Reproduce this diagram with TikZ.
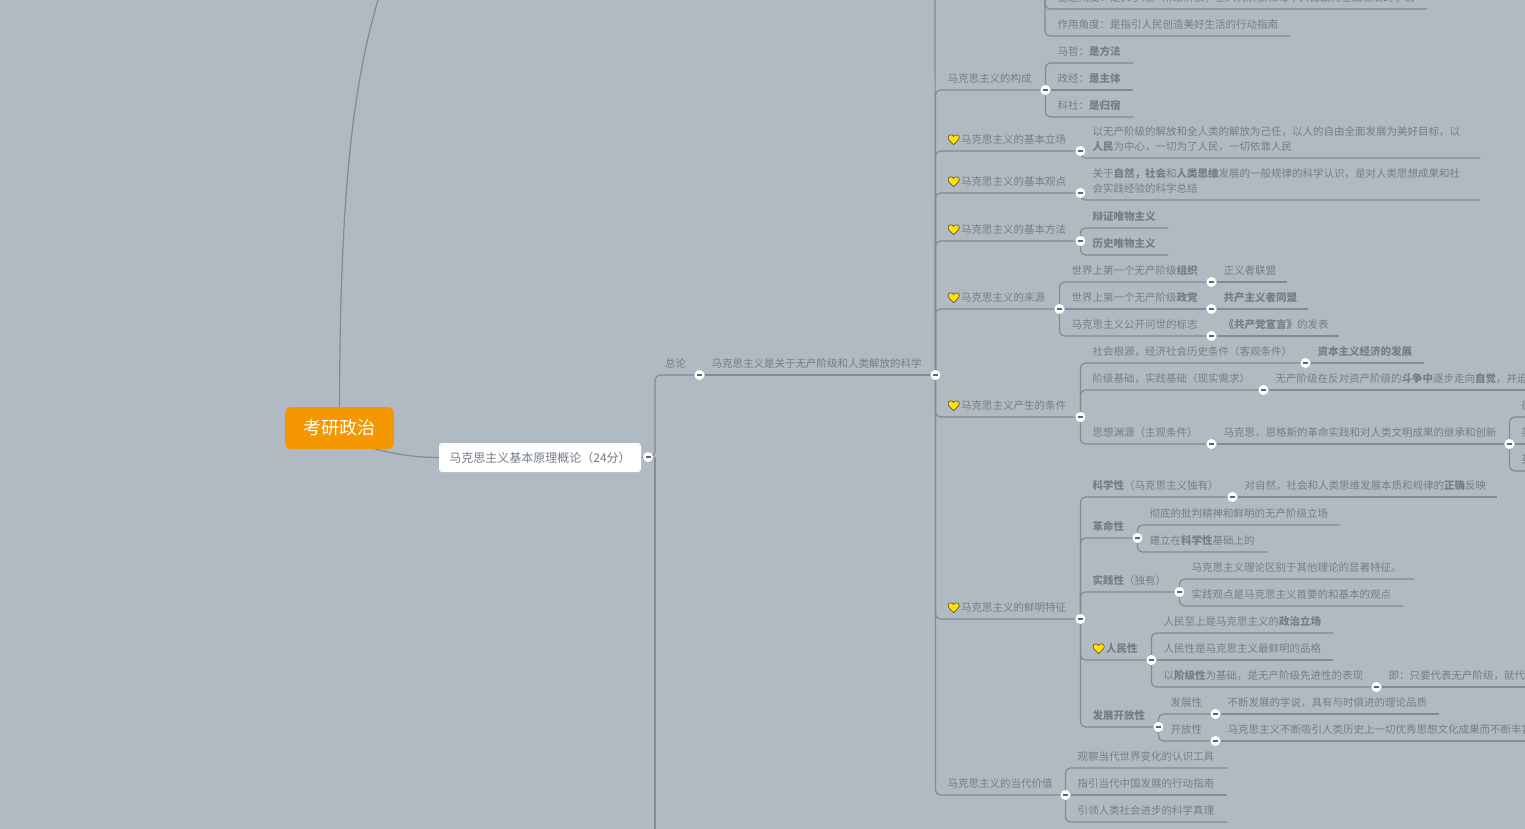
\documentclass[tikz,border=0pt]{standalone}
\usepackage{fontspec}
\setmainfont{Noto Sans CJK SC}
\usetikzlibrary{backgrounds}
\definecolor{mapbg}{HTML}{B1BAC2}
\definecolor{linkgray}{HTML}{808B95}
\definecolor{textgray}{HTML}{757E87}
\definecolor{rootorange}{HTML}{F49700}
\definecolor{heartyellow}{HTML}{FFE000}
\newcommand{\heartmark}{\begin{tikzpicture}[x=1.12pt,y=1.12pt,baseline=1pt]
  \draw[draw=black!65, fill=heartyellow, line width=0.7pt] (0,0) .. controls (-2,2.5) and (-5,4) .. (-5,6.6) .. controls (-5,9.2) and (-1.4,9.8) .. (0,7.4) .. controls (1.4,9.8) and (5,9.2) .. (5,6.6) .. controls (5,4) and (2,2.5) .. (0,0);
\end{tikzpicture}\hspace{1.5pt}}
\tikzset{
  topic/.style={
    anchor=south west,
    inner xsep=12.5pt,
    inner ysep=7pt,
    text depth=0pt,
    align=left,
    text=textgray,
    font=\fontsize{10.5}{15}\selectfont
  },
  twoline/.style={topic, text depth=15pt},
  rootnode/.style={
    fill=rootorange,
    rounded corners=6pt,
    minimum width=109pt,
    minimum height=42pt,
    text=white,
    font=\fontsize{18}{22}\selectfont
  },
  partnode/.style={
    fill=white,
    rounded corners=3pt,
    minimum width=202pt,
    minimum height=29pt,
    text=textgray,
    font=\fontsize{12}{15}\selectfont
  },
  fold/.style={
    circle,
    fill=white,
    inner sep=0pt,
    minimum size=10pt,
    text=textgray!80!black,
    execute at begin node={\rule[0.1pt]{5pt}{1.2pt}}
  },
  link/.style={draw=linkgray, line width=1.2pt, rounded corners=5pt}
}
\begin{document}
\begin{tikzpicture}[x=1pt,y=-1pt]
\useasboundingbox (0,0) rectangle (1525,829);

\node[rootnode] (root) at (339.5,428) {考研政治};
\node[partnode] (part) at (540,457.5) {马克思主义基本原理概论（24分）};
\node[fold] (partfold) at (648,457) {};
\coordinate (rootup) at (379,-3);
\coordinate (rootfoot) at (375,449);
\coordinate (bus) at (655,457);
\coordinate (busend) at (655,835);

\node[topic, text width=21.5pt] (summary) at (652.5,375) {总论};
\node[fold] (summaryfold) at (summary.south east) {};
\node[topic, text width=211pt] (science) at (699,375) {马克思主义是关于无产阶级和人类解放的科学};
\node[fold] (sciencefold) at (science.south east) {};
\coordinate (trunktop) at (935,-5);
\coordinate (viewtop) at (1045,-5);

% Cut at the top
\node[topic, text width=357pt] (viewmain) at (1045,9) {主题角度：是关于无产阶级解放，全人类解放和每个人自由而全面发展的学说};
\node[topic, text width=220pt] (viewuse) at (1045,36) {作用角度：是指引人民创造美好生活的行动指南};

% Composition
\node[topic, text width=85pt] (compose) at (935,90) {马克思主义的构成};
\node[fold] (composefold) at (compose.south east) {};
\node[topic, text width=63pt] (philo) at (1045,63) {马哲：\textbf{是方法}};
\node[topic, text width=63pt] (econ) at (1045,90) {政经：\textbf{是主体}};
\node[topic, text width=63pt] (social) at (1045,117) {科社：\textbf{是归宿}};

% Stance, view, method
\node[topic, text width=120pt] (stance) at (935,151) {\heartmark 马克思主义的基本立场};
\node[fold] (stancefold) at (stance.south east) {};
\node[twoline, text width=375pt] (stancetext) at (1080,158) {以无产阶级的解放和全人类的解放为己任，以人的自由全面发展为美好目标，以\\\textbf{人民}为中心，一切为了人民，一切依靠人民};
\node[topic, text width=120pt] (view) at (935,193) {\heartmark 马克思主义的基本观点};
\node[fold] (viewfold) at (view.south east) {};
\node[twoline, text width=375pt] (viewtext) at (1080,200) {关于\textbf{自然，社会}和\textbf{人类思维}发展的一般规律的科学认识，是对人类思想成果和社\\会实践经验的科学总结};
\node[topic, text width=120pt] (method) at (935,241) {\heartmark 马克思主义的基本方法};
\node[fold] (methodfold) at (method.south east) {};
\node[topic, text width=63pt] (dialectic) at (1080,228) {\textbf{辩证唯物主义}};
\node[topic, text width=63pt] (historic) at (1080,255) {\textbf{历史唯物主义}};

% Origin
\node[topic, text width=99pt] (origin) at (935,309) {\heartmark 马克思主义的来源};
\node[fold] (originfold) at (origin.south east) {};
\node[topic, text width=127pt] (firstorg) at (1059,282) {世界上第一个无产阶级\textbf{组织}};
\node[fold] (firstorgfold) at (firstorg.south east) {};
\node[topic, text width=51pt] (league) at (1211,282) {正义者联盟};
\node[topic, text width=127pt] (firstparty) at (1059,309) {世界上第一个无产阶级\textbf{政党}};
\node[fold] (firstpartyfold) at (firstparty.south east) {};
\node[topic, text width=72pt] (communist) at (1211,309) {\textbf{共产主义者同盟}};
\node[topic, text width=127pt] (debut) at (1059,336) {马克思主义公开问世的标志};
\node[fold] (debutfold) at (debut.south east) {};
\node[topic, text width=103pt] (manifesto) at (1211,336) {\textbf{《共产党宣言》}的发表};

% Conditions
\node[topic, text width=120pt] (condition) at (935,417) {\heartmark 马克思主义产生的条件};
\node[fold] (conditionfold) at (condition.south east) {};
\node[topic, text width=200pt] (socialroot) at (1080,363) {社会根源，经济社会历史条件（客观条件）};
\node[fold] (socialrootfold) at (socialroot.south east) {};
\node[topic, text width=94pt] (capital) at (1305,363) {\textbf{资本主义经济的发展}};
\node[topic, text width=158pt] (classroot) at (1080,390) {阶级基础，实践基础（现实需求）};
\node[fold] (classrootfold) at (classroot.south east) {};
\node[topic, text width=300pt] (struggle) at (1263,390) {无产阶级在反对资产阶级的\textbf{斗争中}逐步走向\textbf{自觉}，并迫};
\node[topic, text width=106pt] (idearoot) at (1080,444) {思想渊源（主观条件）};
\node[fold] (idearootfold) at (idearoot.south east) {};
\node[topic, text width=273pt] (inherit) at (1211,444) {马克思，恩格斯的革命实践和对人类文明成果的继承和创新};
\node[fold] (inheritfold) at (inherit.south east) {};
\node[topic, text width=60pt] (german) at (1509,417) {德};
\node[topic, text width=60pt] (english) at (1509,444) {英};
\node[topic, text width=60pt] (utopia) at (1509,471) {英};

% Features
\node[topic, text width=120pt] (feature) at (935,619) {\heartmark 马克思主义的鲜明特征};
\node[fold] (featurefold) at (feature.south east) {};
\node[topic, text width=127pt] (scientific) at (1080,497) {\textbf{科学性}（马克思主义独有）};
\node[fold] (scientificfold) at (scientific.south east) {};
\node[topic, text width=240pt] (reflect) at (1232,497) {对自然，社会和人类思维发展本质和规律的\textbf{正确}反映};
\node[topic, text width=32pt] (revolution) at (1080,538) {\textbf{革命性}};
\node[fold] (revolutionfold) at (revolution.south east) {};
\node[topic, text width=178pt] (critical) at (1137,525) {彻底的批判精神和鲜明的无产阶级立场};
\node[topic, text width=105pt] (basis) at (1137,552) {建立在\textbf{科学性}基础上的};
\node[topic, text width=74pt] (practice) at (1080,592) {\textbf{实践性}（独有）};
\node[fold] (practicefold) at (practice.south east) {};
\node[topic, text width=210pt] (marked) at (1179,579) {马克思主义理论区别于其他理论的显著特征。};
\node[topic, text width=199pt] (primary) at (1179,606) {实践观点是马克思主义首要的和基本的观点};
\node[topic, text width=46pt] (people) at (1080,660) {\heartmark\textbf{人民性}};
\node[fold] (peoplefold) at (people.south east) {};
\node[topic, text width=157pt] (supreme) at (1151,633) {人民至上是马克思主义的\textbf{政治立场}};
\node[topic, text width=157pt] (quality) at (1151,660) {人民性是马克思主义最鲜明的品格};
\node[topic, text width=200pt] (classbase) at (1151,687) {以\textbf{阶级性}为基础，是无产阶级先进性的表现};
\node[fold] (classbasefold) at (classbase.south east) {};
\node[topic, text width=200pt] (represent) at (1376,687) {即：只要代表无产阶级，就代};
\node[topic, text width=53pt] (openness) at (1080,727) {\textbf{发展开放性}};
\node[fold] (opennessfold) at (openness.south east) {};
\node[topic, text width=32pt] (develop) at (1158,714) {发展性};
\node[fold] (developfold) at (develop.south east) {};
\node[topic, text width=199pt] (doctrine) at (1215,714) {不断发展的学说，具有与时俱进的理论品质};
\node[topic, text width=32pt] (open) at (1158,741) {开放性};
\node[fold] (openfold) at (open.south east) {};
\node[topic, text width=320pt] (absorb) at (1215,741) {马克思主义不断吸引人类历史上一切优秀思想文化成果而不断丰富};

% Value
\node[topic, text width=105pt] (value) at (935,795) {马克思主义的当代价值};
\node[fold] (valuefold) at (value.south east) {};
\node[topic, text width=137pt] (tool) at (1065,768) {观察当代世界变化的认识工具};
\node[topic, text width=137pt] (guide) at (1065,795) {指引当代中国发展的行动指南};
\node[topic, text width=137pt] (truth) at (1065,822) {引领人类社会进步的科学真理};

\begin{pgfonlayer}{background}
  \fill[mapbg] (0,0) rectangle (1525,829);

  % Root and part
  \draw[link] (root.north) .. controls (340,200) and (352,85) .. (rootup);
  \draw[link] (rootfoot) .. controls (395,454) and (415,457.5) .. (part.west);
  \draw[link] (part.east) -- (partfold);
  \draw[link] (partfold) -- (bus) |- (summary.south east);
  \draw[link] (bus) -- (busend);
  \draw[link] (summaryfold) -- (science.south east);

  % Trunk
  \draw[link] (sciencefold) -- (trunktop);
  \draw[link] (sciencefold) |- (compose.south east);
  \draw[link] (sciencefold) |- (stance.south east);
  \draw[link] (sciencefold) |- (view.south east);
  \draw[link] (sciencefold) |- (method.south east);
  \draw[link] (sciencefold) |- (origin.south east);
  \draw[link] (sciencefold) |- (condition.south east);
  \draw[link] (sciencefold) |- (feature.south east);
  \draw[link] (sciencefold) |- (value.south east);

  \draw[link] (viewtop) |- (viewmain.south east);
  \draw[link] (viewtop) |- (viewuse.south east);

  \draw[link] (composefold) |- (philo.south east);
  \draw[link] (composefold) -- (econ.south east);
  \draw[link] (composefold) |- (social.south east);

  \draw[link] (stancefold) |- (stancetext.south east);
  \draw[link] (viewfold) |- (viewtext.south east);
  \draw[link] (methodfold) |- (dialectic.south east);
  \draw[link] (methodfold) |- (historic.south east);

  % Origin
  \draw[link] (originfold) |- (firstorg.south east);
  \draw[link] (originfold) -- (firstpartyfold);
  \draw[link] (originfold) |- (debut.south east);
  \draw[link] (firstorgfold) -- (league.south east);
  \draw[link] (firstpartyfold) -- (communist.south east);
  \draw[link] (debutfold) -- (manifesto.south east);

  % Conditions
  \draw[link] (conditionfold) |- (socialroot.south east);
  \draw[link] (conditionfold) |- (classroot.south east);
  \draw[link] (conditionfold) |- (idearootfold);
  \draw[link] (socialrootfold) -- (capital.south east);
  \draw[link] (classrootfold) -- (struggle.south east);
  \draw[link] (idearootfold) -- (inheritfold);
  \draw[link] (inheritfold) |- (german.south east);
  \draw[link] (inheritfold) -- (english.south east);
  \draw[link] (inheritfold) |- (utopia.south east);

  % Features
  \draw[link] (featurefold) |- (scientific.south east);
  \draw[link] (featurefold) |- (revolution.south east);
  \draw[link] (featurefold) |- (practice.south east);
  \draw[link] (featurefold) |- (people.south east);
  \draw[link] (featurefold) |- (openness.south east);
  \draw[link] (scientificfold) -- (reflect.south east);
  \draw[link] (revolutionfold) |- (critical.south east);
  \draw[link] (revolutionfold) |- (basis.south east);
  \draw[link] (practicefold) |- (marked.south east);
  \draw[link] (practicefold) |- (primary.south east);
  \draw[link] (peoplefold) |- (supreme.south east);
  \draw[link] (peoplefold) -- (quality.south east);
  \draw[link] (peoplefold) |- (classbasefold);
  \draw[link] (classbasefold) -- (represent.south east);
  \draw[link] (opennessfold) |- (develop.south east);
  \draw[link] (opennessfold) |- (open.south east);
  \draw[link] (developfold) -- (doctrine.south east);
  \draw[link] (openfold) -- (absorb.south east);

  % Value
  \draw[link] (valuefold) |- (tool.south east);
  \draw[link] (valuefold) -- (guide.south east);
  \draw[link] (valuefold) |- (truth.south east);
\end{pgfonlayer}

\end{tikzpicture}
\end{document}
